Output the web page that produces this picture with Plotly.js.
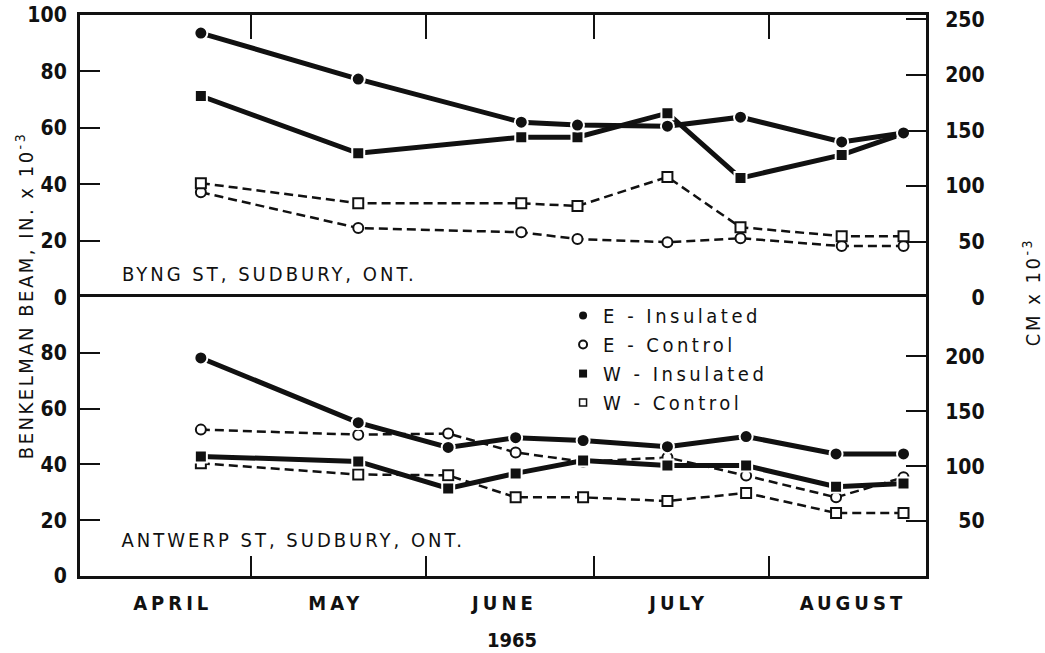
<!DOCTYPE html>
<html><head><meta charset="utf-8">
<script src="https://cdn.plot.ly/plotly-3.0.1.min.js"></script>
<style>
html,body{margin:0;padding:0;background:#fff;}
#chart{width:1045px;height:653px;}
.xtick text{letter-spacing:4px;}
.legendtext{letter-spacing:3.5px;}
.annotation[data-index="0"] text, .annotation[data-index="1"] text{letter-spacing:3px;}
.annotation[data-index="2"] text, .annotation[data-index="3"] text{letter-spacing:2.5px;}
</style></head><body><div id="chart"></div>
<script>
// Byng St (top panel)
const topDates = ["1965-04-22","1965-05-20","1965-06-18","1965-06-28","1965-07-14","1965-07-27","1965-08-14","1965-08-25"];
const topEIns  = [93.6, 77.3, 62.0, 61.0, 60.6, 63.8, 55.0, 58.2];
const topECtrl = [37.2, 24.5, 23.0, 20.6, 19.5, 20.9, 18.1, 18.1];
const topWIns  = [71.3, 51.0, 56.7, 56.7, 65.2, 42.2, 50.4, 58.0];
const topWCtrl = [40.4, 33.3, 33.3, 32.3, 42.6, 24.8, 21.6, 21.6];
// Antwerp St (bottom panel)
const botDates = ["1965-04-22","1965-05-20","1965-06-05","1965-06-17","1965-06-29","1965-07-14","1965-07-28","1965-08-13","1965-08-25"];
const botEIns  = [78.2, 55.0, 46.1, 49.6, 48.6, 46.4, 50.0, 43.8, 43.8];
const botECtrl = [52.5, 50.7, 51.1, 44.3, 41.0, 42.5, 36.0, 28.2, 35.4];
const botWIns  = [42.9, 41.1, 31.4, 36.8, 41.4, 39.6, 39.6, 32.0, 33.2];
const botWCtrl = [40.4, 36.4, 36.1, 28.2, 28.2, 26.9, 29.8, 22.6, 22.6];
// axes
const monthLabels  = ["APRIL","MAY","JUNE","JULY","AUGUST"];
const monthCenters = ["1965-04-17","1965-05-16","1965-06-15","1965-07-16","1965-08-16"];
const monthStarts  = ["1965-05-01","1965-06-01","1965-07-01","1965-08-01"];
const inTicksTop = [0,20,40,60,80,100];
const inTicksBot = [0,20,40,60,80];
const cmTicksTop = [0,50,100,150,200,250];
const cmTicksBot = [50,100,150,200];
const seriesNames = ["E - Insulated","E - Control","W - Insulated","W - Control"];

const INK = '#111';
const FAM = "'DejaVu Sans Condensed','Liberation Sans Narrow','DejaVu Sans',sans-serif";
const insLine = {color: INK, width: 5};
const ctrlLine = {color: INK, width: 2.5, dash: '9px,5px'};
const mk = {
  EIns:  {symbol:'circle', size:13, color:INK, line:{color:'#fff', width:2}},
  WIns:  {symbol:'square', size:12, color:INK, line:{color:'#fff', width:2}},
  ECtrl: {symbol:'circle', size:10, color:'#fff', line:{color:INK, width:2}},
  WCtrl: {symbol:'square', size:10, color:'#fff', line:{color:INK, width:2}}
};
function tr(x, y, line, marker, xa, ya){
  return {x:x, y:y, mode:'lines+markers', line:line, marker:marker, xaxis:xa, yaxis:ya, showlegend:false, hoverinfo:'skip'};
}
const data = [
  tr(topDates, topECtrl, ctrlLine, mk.ECtrl, 'x2', 'y3'),
  tr(topDates, topWCtrl, ctrlLine, mk.WCtrl, 'x2', 'y3'),
  tr(topDates, topWIns, insLine, mk.WIns, 'x2', 'y3'),
  tr(topDates, topEIns, insLine, mk.EIns, 'x2', 'y3'),
  tr(botDates, botECtrl, ctrlLine, mk.ECtrl, 'x', 'y'),
  tr(botDates, botWCtrl, ctrlLine, mk.WCtrl, 'x', 'y'),
  tr(botDates, botWIns, insLine, mk.WIns, 'x', 'y'),
  tr(botDates, botEIns, insLine, mk.EIns, 'x', 'y'),
  {x:[null], y:[null], xaxis:'x', yaxis:'y2', mode:'markers', showlegend:false, hoverinfo:'skip'},
  {x:[null], y:[null], xaxis:'x2', yaxis:'y4', mode:'markers', showlegend:false, hoverinfo:'skip'}
];
const legMarkers = [
  {symbol:'circle', size:8, color:INK},
  {symbol:'circle', size:8, color:'#fff', line:{color:INK, width:2}},
  {symbol:'square', size:8, color:INK},
  {symbol:'square', size:7, color:'#fff', line:{color:INK, width:1.5}}
];
seriesNames.forEach((n,i)=>{
  data.push({x:[null], y:[null], name:n, mode:'markers', marker:legMarkers[i], xaxis:'x', yaxis:'y', showlegend:true, hoverinfo:'skip'});
});

const DIV = 0.497;
const tickF = {family:FAM, size:21, color:INK, weight:'bold'};
const pad = v => { const s = String(v); return '\u2007'.repeat(3 - s.length) + s; };
const yBase = {showgrid:false, zeroline:false, ticks:'inside', ticklen:20, tickwidth:2, tickcolor:INK,
  showline:true, linewidth:3, linecolor:INK, tickfont:tickF, tickmode:'array', fixedrange:true};
const layout = {
  width:1045, height:653, paper_bgcolor:'#fff', plot_bgcolor:'#fff',
  margin:{l:80, r:119, t:15, b:77},
  font:{family:FAM, color:INK},
  showlegend:true,
  legend:{x:0.571, xanchor:'left', y:DIV+0.002, yanchor:'top', bgcolor:'rgba(0,0,0,0)',
    font:{family:FAM, size:20, color:INK}, itemsizing:'trace', tracegroupgap:0},
  xaxis:{domain:[0,1], anchor:'y', type:'date', range:["1965-03-31 12:00","1965-08-29"],
    tickmode:'array', tickvals:monthCenters, ticktext:monthLabels, ticks:'',
    tickfont:{family:FAM, size:20, color:INK, weight:'bold'}, ticklabelstandoff:7,
    showline:true, linewidth:3, linecolor:INK, mirror:true, showgrid:false, zeroline:false,
    minor:{tickmode:'array', tickvals:monthStarts, ticks:'inside', ticklen:20, tickwidth:2, tickcolor:INK, showgrid:false}},
  xaxis2:{domain:[0,1], anchor:'y3', type:'date', range:["1965-03-31 12:00","1965-08-29"], side:'top',
    showticklabels:false, ticks:'', tickmode:'array', tickvals:monthCenters,
    showline:true, linewidth:3, linecolor:INK, mirror:false, showgrid:false, zeroline:false,
    minor:{tickmode:'array', tickvals:monthStarts, ticks:'inside', ticklen:24, tickwidth:2, tickcolor:INK, showgrid:false}},
  yaxis:Object.assign({}, yBase, {domain:[0,DIV], anchor:'x', range:[0,100], tickvals:inTicksBot, ticklabelstandoff:6}),
  yaxis2:Object.assign({}, yBase, {overlaying:'y', side:'right', anchor:'x', range:[0,254], tickvals:cmTicksBot, ticktext:cmTicksBot.map(pad), ticklabelstandoff:12}),
  yaxis3:Object.assign({}, yBase, {domain:[DIV,1], anchor:'x2', range:[0,100], tickvals:inTicksTop, ticklabelstandoff:6}),
  yaxis4:Object.assign({}, yBase, {overlaying:'y3', side:'right', anchor:'x2', range:[0,254], tickvals:cmTicksTop, ticktext:cmTicksTop.map(pad), ticklabelstandoff:12}),
  annotations:[
    {text:'BYNG ST, SUDBURY, ONT.', xref:'paper', yref:'y3', x:0.0863, y:8.2, xanchor:'left', yanchor:'middle', showarrow:false, font:{family:FAM, size:20, color:INK}},
    {text:'ANTWERP ST, SUDBURY, ONT.', xref:'paper', yref:'y', x:0.0916, y:12.9, xanchor:'left', yanchor:'middle', showarrow:false, font:{family:FAM, size:20, color:INK}},
    {text:'BENKELMAN BEAM, IN. x 10<sup>-3</sup>', xref:'paper', yref:'paper', x:-0.066, y:0.5, xanchor:'center', yanchor:'middle', textangle:-90, showarrow:false, font:{family:FAM, size:20, color:INK}},
    {text:'CM x 10<sup>-3</sup>', xref:'paper', yref:'paper', x:1.125, y:0.506, xanchor:'center', yanchor:'middle', textangle:-90, showarrow:false, font:{family:FAM, size:20, color:INK}},
    {text:'1965', xref:'paper', yref:'paper', x:0.511, y:-0.114, xanchor:'center', yanchor:'middle', showarrow:false, font:{family:FAM, size:20, color:INK, weight:'bold'}}
  ]
};
Plotly.newPlot('chart', data, layout, {staticPlot:true, displayModeBar:false});
</script></body></html>
